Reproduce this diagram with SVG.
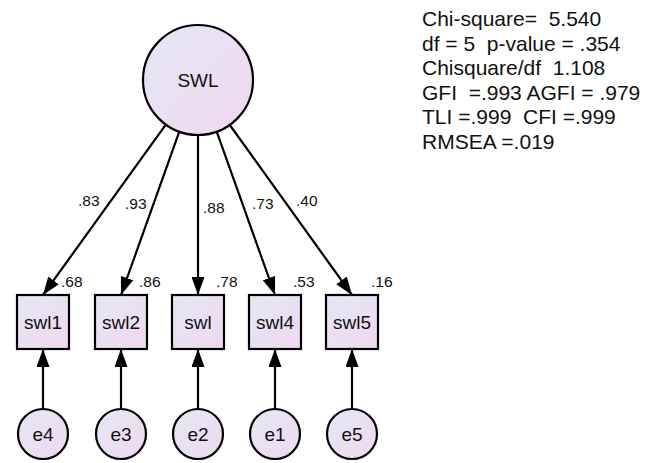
<svg xmlns="http://www.w3.org/2000/svg" width="666" height="463" viewBox="0 0 666 463">
<defs>
<linearGradient id="fill" x1="0" y1="0" x2="1" y2="1">
<stop offset="0" stop-color="#e4e8f3"/>
<stop offset="1" stop-color="#f0d8f0"/>
</linearGradient>
<marker id="ah" viewBox="0 0 18 13" refX="18" refY="6.5" markerWidth="18" markerHeight="13" markerUnits="userSpaceOnUse" orient="auto">
<path d="M0,0 L18,6.5 L0,13 Z" fill="#000"/>
</marker>
<style>
.shape{fill:url(#fill);stroke:#000;stroke-width:2.2}
.lbl{font-family:"Liberation Sans",Arial,sans-serif;fill:#111}
.node{font-size:19px;text-anchor:middle}
.coef{font-size:15.5px}
.fit{font-size:21px}
.conn{stroke:#000;stroke-width:2.2;fill:none;marker-end:url(#ah)}
</style>
</defs>
<rect width="666" height="463" fill="#fff"/>
<g id="connectors">
<line class="conn" x1="165.8" y1="124.6" x2="43" y2="295"/>
<line class="conn" x1="179.3" y1="131.7" x2="121" y2="295"/>
<line class="conn" x1="198" y1="135" x2="198" y2="295"/>
<line class="conn" x1="216.7" y1="131.7" x2="275" y2="295"/>
<line class="conn" x1="229.8" y1="125" x2="352" y2="295"/>
<line class="conn" x1="43" y1="409" x2="43" y2="349"/>
<line class="conn" x1="121" y1="409" x2="121" y2="349"/>
<line class="conn" x1="198" y1="409" x2="198" y2="349"/>
<line class="conn" x1="275" y1="409" x2="275" y2="349"/>
<line class="conn" x1="352" y1="409" x2="352" y2="349"/>
</g>
<g id="SWL"><circle class="shape" cx="198" cy="80" r="55"/><text class="lbl node" x="198" y="87">SWL</text></g>
<g id="swl1"><rect class="shape" x="17" y="295" width="52" height="54"/><text class="lbl node" x="43" y="329">swl1</text></g>
<g id="swl2"><rect class="shape" x="95" y="295" width="52" height="54"/><text class="lbl node" x="121" y="329">swl2</text></g>
<g id="swl"><rect class="shape" x="172" y="295" width="52" height="54"/><text class="lbl node" x="198" y="329">swl</text></g>
<g id="swl4"><rect class="shape" x="249" y="295" width="52" height="54"/><text class="lbl node" x="275" y="329">swl4</text></g>
<g id="swl5"><rect class="shape" x="326" y="295" width="52" height="54"/><text class="lbl node" x="352" y="329">swl5</text></g>
<g id="e4"><circle class="shape" cx="43" cy="434" r="25"/><text class="lbl node" x="43" y="441">e4</text></g>
<g id="e3"><circle class="shape" cx="121" cy="434" r="25"/><text class="lbl node" x="121" y="441">e3</text></g>
<g id="e2"><circle class="shape" cx="198" cy="434" r="25"/><text class="lbl node" x="198" y="441">e2</text></g>
<g id="e1"><circle class="shape" cx="275" cy="434" r="25"/><text class="lbl node" x="275" y="441">e1</text></g>
<g id="e5"><circle class="shape" cx="352" cy="434" r="25"/><text class="lbl node" x="352" y="441">e5</text></g>
<g id="coefficients">
<text class="lbl coef" x="78" y="206">.83</text>
<text class="lbl coef" x="125" y="209">.93</text>
<text class="lbl coef" x="203" y="213">.88</text>
<text class="lbl coef" x="252" y="209">.73</text>
<text class="lbl coef" x="296" y="206">.40</text>
<text class="lbl coef" x="61" y="287">.68</text>
<text class="lbl coef" x="139" y="287">.86</text>
<text class="lbl coef" x="216" y="287">.78</text>
<text class="lbl coef" x="293" y="287">.53</text>
<text class="lbl coef" x="371" y="287">.16</text>
</g>
<g id="fit-statistics">
<text class="lbl fit" x="422" y="26" xml:space="preserve">Chi-square=  5.540</text>
<text class="lbl fit" x="422" y="50.5" xml:space="preserve">df = 5  p-value = .354</text>
<text class="lbl fit" x="422" y="75" xml:space="preserve">Chisquare/df  1.108</text>
<text class="lbl fit" x="422" y="99.5" xml:space="preserve">GFI  =.993 AGFI = .979</text>
<text class="lbl fit" x="422" y="124" xml:space="preserve">TLI =.999  CFI =.999</text>
<text class="lbl fit" x="422" y="148.5" xml:space="preserve">RMSEA =.019</text>
</g>
</svg>
